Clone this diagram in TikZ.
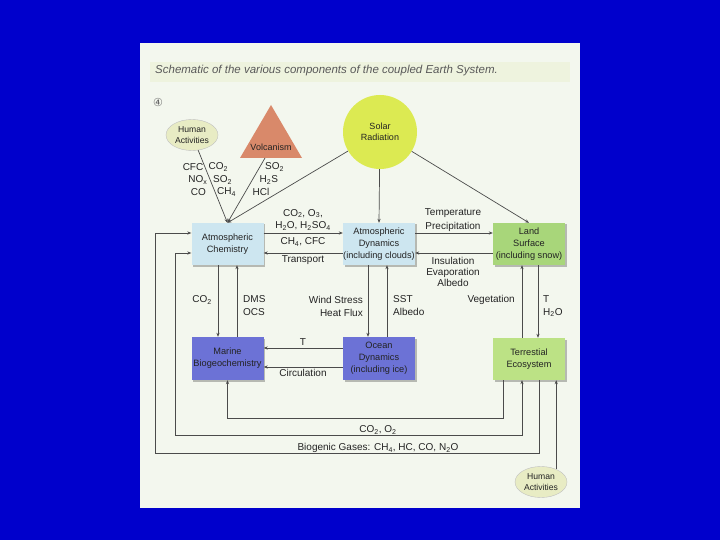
\documentclass[tikz,border=0pt]{standalone}
\usepackage{fontspec}
\setmainfont{Liberation Sans}
\newfontfamily\dejavu{DejaVu Sans}
\usetikzlibrary{shapes.geometric,arrows.meta,shadows}
\definecolor{bgblue}{RGB}{0,0,204}
\definecolor{panel}{RGB}{243,247,238}
\definecolor{band}{RGB}{238,243,222}
\definecolor{lblue}{RGB}{205,230,240}
\definecolor{mblue}{RGB}{108,114,214}
\definecolor{lgreen}{RGB}{168,214,122}
\definecolor{tgreen}{RGB}{188,226,133}
\definecolor{solarc}{RGB}{220,234,82}
\definecolor{volcc}{RGB}{217,137,106}
\definecolor{humc}{RGB}{232,236,196}
\definecolor{linec}{RGB}{75,75,75}
\definecolor{txt}{RGB}{35,35,35}
\newcommand{\sbs}[1]{\textsubscript{#1}}
\tikzset{
  arr/.style={draw=linec, line width=0.7pt, -{Stealth[length=4pt,width=3.2pt]}},
  arrboth/.style={draw=linec, line width=0.7pt, {Stealth[length=4pt,width=3.2pt]}-{Stealth[length=4pt,width=3.2pt]}},
  comp/.style={rectangle, minimum width=72pt, minimum height=42pt, inner sep=0pt, align=center,
    text=txt, font=\fontsize{9.2}{11.8}\selectfont,
    drop shadow={shadow xshift=1.5pt, shadow yshift=-1.5pt, opacity=0.25, fill=black}},
  hum/.style={ellipse, fill=humc, draw=black!25, line width=0.4pt, minimum width=52pt, minimum height=31pt,
    inner sep=0pt, align=center, text=txt, font=\fontsize{8.6}{10.5}\selectfont},
  lab/.style={text=txt, font=\fontsize{10}{12.5}\selectfont, inner sep=0pt},
}
\begin{document}
\begin{tikzpicture}[x=1pt,y=-1pt]
\useasboundingbox (0,0) rectangle (720,540);
\fill[bgblue] (0,0) rectangle (720,540);
\fill[panel] (140,43) rectangle (580,508);
\fill[band] (150,62) rectangle (570,82);
\node[anchor=west, inner sep=0pt, text=black!65, font=\itshape\fontsize{11.5}{13}\selectfont] (title) at (155,71)
  {Schematic of the various components of the coupled Earth System.};
\node[inner sep=0pt, text=black!60, font=\dejavu\fontsize{11}{12}\selectfont] (num) at (158,102) {④};

% top sources
\node[hum] (hum1) at (192,135) {Human\\Activities};
\fill[volcc] (271,105) -- (302,158) -- (240,158) -- cycle;
\node[text=txt, inner sep=0pt, font=\fontsize{9}{10}\selectfont] (volc) at (271,147) {Volcanism};
\coordinate (vb) at (265,158);
\node[circle, fill=solarc, minimum size=74pt, inner sep=0pt, align=center, text=txt,
  font=\fontsize{9}{11.5}\selectfont] (solar) at (380,132) {Solar\\Radiation};

% components
\node[comp, fill=lblue] (ac) at (227.5,244) {Atmospheric\\Chemistry};
\node[comp, fill=lblue] (ad) at (379,244) {Atmospheric\\Dynamics\\(including clouds)};
\node[comp, fill=lgreen] (ls) at (529,244) {Land\\Surface\\(including snow)};
\node[comp, fill=mblue, minimum height=43pt] (mb) at (227.5,358.5) {Marine\\Biogeochemistry};
\node[comp, fill=mblue, minimum height=43pt] (od) at (379,358.5) {Ocean\\Dynamics\\(including ice)};
\node[comp, fill=tgreen] (te) at (529,359) {Terrestial\\Ecosystem};
\node[hum] (hum2) at (541,482) {Human\\Activities};

% inputs to atmospheric chemistry
\draw[arr] (hum1) -- (ac.north);
\draw[arr] (vb) -- (ac.north);
\draw[arr] (solar) -- (ac.north);
\draw[arr] (solar) -- (ad.north);
\draw[arr] (solar) -- (ls.north);

\node[lab, anchor=east] (la1) at (203.5,167) {CFC};
\node[lab, anchor=east] (la2) at (207.5,180) {NO\sbs{x}};
\node[lab, anchor=east] (la3) at (206,192) {CO};
\node[lab, anchor=west] (lb1) at (208.5,167) {CO\sbs{2}};
\node[lab, anchor=west] (lb2) at (213,180) {SO\sbs{2}};
\node[lab, anchor=west] (lb3) at (217,192) {CH\sbs{4}};
\node[lab, anchor=west] (lc1) at (265,167) {SO\sbs{2}};
\node[lab, anchor=west] (lc2) at (259.5,180) {H\sbs{2}S};
\node[lab, anchor=west] (lc3) at (252.5,192) {HCl};

% horizontal couplings
\draw[arr] ([yshift=11pt]ac.east) -- ([yshift=11pt]ad.west);
\draw[arr] ([yshift=-9pt]ad.west) -- ([yshift=-9pt]ac.east);
\draw[arr] ([yshift=11pt]ad.east) -- ([yshift=11pt]ls.west);
\draw[arr] ([yshift=-9pt]ls.west) -- ([yshift=-9pt]ad.east);
\node[lab, align=center, font=\fontsize{10}{12.5}\selectfont] (l4) at (303,220) {CO\sbs{2}, O\sbs{3},\\H\sbs{2}O, H\sbs{2}SO\sbs{4}};
\node[lab] (l5) at (303,242) {CH\sbs{4}, CFC};
\node[lab] (l6) at (303,260) {Transport};
\node[lab, align=center, font=\fontsize{10}{13.5}\selectfont] (l7) at (453,220) {Temperature\\Precipitation};
\node[lab, align=center, font=\fontsize{10}{11}\selectfont] (l8) at (453,272) {Insulation\\Evaporation\\Albedo};

% vertical couplings
\draw[arr] ([xshift=-9.5pt]ac.south) -- ([xshift=-9.5pt]mb.north);
\draw[arr] ([xshift=9.5pt]mb.north) -- ([xshift=9.5pt]ac.south);
\draw[arr] ([xshift=-11pt]ad.south) -- ([xshift=-11pt]od.north);
\draw[arr] ([xshift=8pt]od.north) -- ([xshift=8pt]ad.south);
\draw[arr] ([xshift=-7pt]te.north) -- ([xshift=-7pt]ls.south);
\draw[arr] ([xshift=9pt]ls.south) -- ([xshift=9pt]te.north);
\node[lab] (l9) at (202,300) {CO\sbs{2}};
\node[lab, anchor=west, align=left, font=\fontsize{10}{13}\selectfont] (l10) at (243,306) {DMS\\OCS};
\node[lab, anchor=east, align=right, font=\fontsize{10}{13}\selectfont] (l11) at (363,306) {Wind Stress\\Heat Flux};
\node[lab, anchor=west, align=left, font=\fontsize{10}{13}\selectfont] (l12) at (393,306) {SST\\Albedo};
\node[lab, anchor=east] (l13) at (515,300) {Vegetation};
\node[lab, anchor=west, align=left, font=\fontsize{10}{13}\selectfont] (l14) at (543,306) {T\\H\sbs{2}O};

% ocean to marine
\draw[arr] ([yshift=10.5pt]od.west) -- ([yshift=10.5pt]mb.east);
\draw[arr] ([yshift=-8.5pt]od.west) -- ([yshift=-8.5pt]mb.east);
\node[lab] (l15) at (303,342) {T};
\node[lab] (l16) at (303,373) {Circulation};

% bottom loops
\coordinate (c1) at (503,418);
\coordinate (c2) at (175,435);
\coordinate (c3) at (155,453);
\draw[arr] ([xshift=-26pt]te.south) |- (c1) -| (mb.south);
\draw[arrboth] ([xshift=-7pt]te.south) |- (c2) |- ([yshift=-9pt]ac.west);
\draw[arr] ([xshift=10pt]te.south) |- (c3) |- ([yshift=11pt]ac.west);
\draw[arr] (hum2.40) -- (hum2.40 |- te.south);
\node[lab] (l17) at (378,430) {CO\sbs{2}, O\sbs{2}};
\node[lab] (l18) at (378,448) {Biogenic Gases: CH\sbs{4}, HC, CO, N\sbs{2}O};
\end{tikzpicture}
\end{document}
